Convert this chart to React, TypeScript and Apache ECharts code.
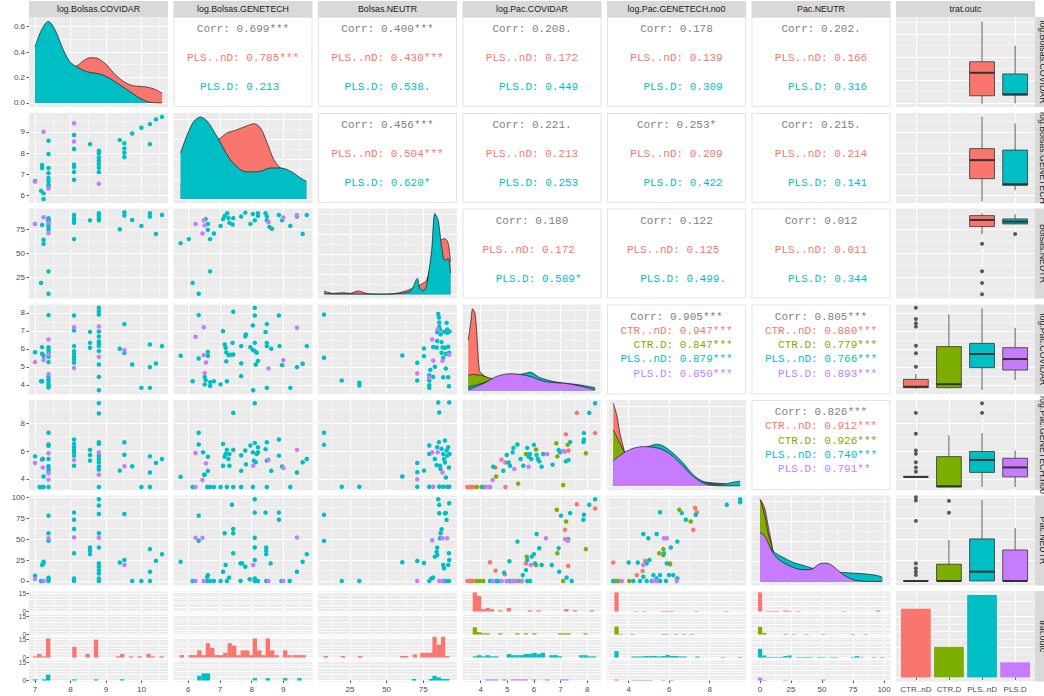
import React, { useEffect, useRef } from "react";
import * as echarts from "echarts";

// ---------------- data ----------------
const GROUPS = ["CTR..nD", "CTR.D", "PLS..nD", "PLS.D"];
const VARS = ["log.Bolsas.COVIDAR", "log.Bolsas.GENETECH", "Bolsas.NEUTR", "log.Pac.COVIDAR", "log.Pac.GENETECH.no0", "Pac.NEUTR", "trat.outc"];
const COUNTS = [45, 20, 54, 10];

// densities [x, density] (diagonal)
const D1_PLSnD = [[7.0,0.30],[7.14,0.38],[7.28,0.43],[7.37,0.44],[7.47,0.42],[7.61,0.37],[7.8,0.31],[7.98,0.28],[8.17,0.29],[8.36,0.33],[8.55,0.355],[8.74,0.352],[8.83,0.34],[9.02,0.30],[9.2,0.24],[9.39,0.19],[9.58,0.155],[9.77,0.135],[9.96,0.13],[10.15,0.125],[10.38,0.107],[10.585,0.076]];
const D1_PLSD = [[7.0,0.44],[7.14,0.547],[7.28,0.62],[7.37,0.64],[7.47,0.62],[7.61,0.547],[7.8,0.416],[7.98,0.324],[8.17,0.285],[8.45,0.246],[8.83,0.227],[9.11,0.193],[9.39,0.141],[9.675,0.089],[9.96,0.037],[10.24,0.005],[10.585,0.0]];
const D2_PLSnD = [[5.757,14],[5.97,25],[6.18,35],[6.39,45],[6.6,52],[6.81,57],[7.02,61],[7.23,66],[7.545,69.3],[7.86,73.3],[8.07,75.3],[8.28,71],[8.49,56],[8.7,39.3],[8.91,31],[9.23,25],[9.54,18],[9.73,15]];
const D2_PLSD = [[5.757,46],[5.97,64.3],[6.18,77.7],[6.39,82],[6.6,77.7],[6.81,67.7],[7.02,56],[7.33,39.3],[7.65,29.3],[7.86,27],[8.28,27.7],[8.6,31],[8.91,31],[9.23,27.7],[9.54,21],[9.73,17.7]];
const D3_PLSnD = [[7.3,3.3],[13.6,1],[20.4,1.7],[25,1],[30.6,3.3],[36.3,1],[43,0.3],[49.9,0.3],[59,1.7],[65.9,5],[70.9,8],[75.4,11.7],[77.3,14],[80.7,35],[82.9,60],[85.2,52],[87.5,55],[89.8,55.7],[92,51],[93.6,32.7]];
const D3_PLSD = [[7.3,1],[13.6,0.5],[20.4,0.5],[30.6,0.5],[36.3,0.3],[49.9,0.3],[59,1],[65.9,3],[68.1,7.7],[70.9,16],[72.7,6],[75.4,4],[77.3,9.3],[80.7,44],[82.9,81],[85.2,74],[87.5,47.7],[89.8,34],[92,36],[93.6,21]];
const D4_CTRnD = [[3.53,50],[3.62,66.7],[3.7,81.7],[3.79,76.7],[3.87,50],[3.95,20],[4.04,16.7],[4.29,12],[4.6,10],[5.1,9],[5.85,7],[6.35,5],[7.11,5],[7.61,3],[8.3,1]];
const D4_CTRD = [[3.53,15],[3.7,16],[3.87,15.5],[4.04,15],[4.29,12.7],[4.6,11],[5.1,10],[5.85,8],[6.35,7],[7.11,6],[7.61,4],[8.3,2]];
const D4_PLSnD = [[3.53,3.3],[4.04,7],[4.6,12],[5.1,15],[5.48,16],[5.73,17.3],[5.85,18.3],[6.23,12.7],[6.86,8.3],[7.73,5.5],[8.3,2.7]];
const D4_PLSD = [[3.53,0.7],[3.95,5],[4.29,9.5],[4.6,14],[5.1,16.7],[5.48,16],[5.85,14],[6.35,9.3],[6.86,7.5],[7.11,7.3],[7.61,5],[8.3,0.7]];
const D5_CTRnD = [[3.24,82.7],[3.41,71],[3.57,52.7],[3.77,36],[3.9,28],[4.23,20],[4.72,14],[5.38,10],[6.2,7],[7.19,5],[8.18,3],[9.5,1]];
const D5_CTRD = [[3.24,56],[3.49,46],[3.73,36],[3.9,30],[4.23,25],[4.72,20],[5.38,15],[6.2,12],[7.19,6],[8.18,2],[9.5,0.5]];
const D5_PLSnD = [[3.24,20],[3.73,28],[4.23,34],[4.72,38],[5.05,40],[5.38,41.7],[5.71,40],[6.2,32.7],[6.7,22.7],[7.19,11],[7.69,4.3],[8.18,1.7],[8.67,1.7],[9.17,3.7],[9.5,4.7]];
const D5_PLSD = [[3.24,25.3],[3.73,32.7],[4.23,37.7],[4.72,39.3],[5.22,38.7],[5.71,36],[6.2,29.3],[6.7,19.3],[7.19,9.3],[7.69,2.7],[8.18,0.3],[8.67,0],[9.5,0]];
const D6_CTRnD = [[0,82],[1.3,80],[4,72],[6.6,55],[9.4,38],[10.7,30],[16,22],[24,16],[37.6,10],[53.7,7],[75,5],[98.5,3]];
const D6_CTRD = [[0,82.3],[1.3,78],[4,65],[6.6,48],[9.4,35],[10.7,29],[16,22],[24,16],[37.6,11],[53.7,8],[75,6],[98.5,2]];
const D6_PLSnD = [[0,45],[4,40],[10.7,30],[18.7,24],[26.8,19],[37.6,15],[45,12],[53.7,10],[67.1,9],[75.2,8.3],[86,7.3],[94,6],[98.5,4.3]];
const D6_PLSD = [[0,49],[4,45],[6.6,38.3],[10.7,28],[16,21],[24.1,15.5],[32.2,12],[40.3,11.7],[48.3,17.7],[53.7,18.3],[59.1,15],[67.1,6.7],[75.2,1.7],[86,0],[98.5,0]];

// scatter points [x, y, group]
const S21 = [[7.0,6.69,2],[7.17,6.23,2],[7.24,6.11,2],[7.24,5.85,2],[7.2,7.44,2],[7.2,7.3,2],[7.38,8.58,2],[7.38,7.96,2],[7.38,7.3,2],[7.38,7.06,2],[7.38,6.83,2],[7.38,6.68,2],[7.38,6.52,2],[7.38,6.45,2],[8.1,8.85,2],[8.1,8.19,2],[8.1,7.46,2],[8.1,7.35,2],[8.1,7.11,2],[8.1,6.75,2],[8.55,8.42,2],[8.8,8.11,2],[8.8,7.99,2],[8.8,7.8,2],[8.8,7.64,2],[8.8,7.49,2],[8.8,7.31,2],[8.8,7.11,2],[9.39,8.61,2],[9.52,8.46,2],[9.52,8.22,2],[9.52,8.02,2],[9.52,7.82,2],[9.74,8.92,2],[10.0,9.19,2],[10.24,9.36,2],[10.24,8.42,2],[10.41,9.58,2],[10.58,9.7,2],
  [7.0,6.66,3],[7.24,9.0,3],[7.38,6.34,3],[8.1,9.4,3],[8.1,8.54,3],[8.8,6.56,3]];
const S31 = [[7.0,80.5,2],[7.2,79.4,2],[7.24,64,2],[7.24,59.8,2],[7.17,19.2,2],[7.38,86.4,2],[7.38,85,2],[7.38,83,2],[7.38,80,2],[7.38,77,2],[7.38,74.3,2],[7.38,31.2,2],[7.38,7.9,2],[8.1,89.8,2],[8.1,86.5,2],[8.1,84.2,2],[8.1,81.6,2],[8.1,64.7,2],[8.55,84.2,2],[8.8,91.5,2],[8.8,89.2,2],[8.8,86.5,2],[8.8,84.2,2],[9.39,75,2],[9.52,92.5,2],[9.52,89.2,2],[9.74,84.6,2],[10.0,78.4,2],[10.24,91.5,2],[10.24,88.2,2],[10.41,70.1,2],[10.58,89.8,2],
  [7.0,80.5,3],[7.24,87.4,3],[7.38,81.6,3],[7.38,70.9,3]];
const S32 = [[5.76,60.5,2],[6.02,64.7,2],[6.14,19.2,2],[6.33,7.9,2],[6.55,85.5,2],[6.62,80.5,2],[6.62,74.3,2],[6.69,64.7,2],[6.69,31.2,2],[6.81,70.6,2],[7.02,78.4,2],[7.1,85.5,2],[7.15,88.8,2],[7.23,91.5,2],[7.27,86.5,2],[7.3,81.6,2],[7.4,79.9,2],[7.42,86.5,2],[7.67,88.2,2],[7.8,92.2,2],[7.96,80.5,2],[8.04,90.8,2],[8.1,84.2,2],[8.2,91.5,2],[8.2,88.8,2],[8.44,91.5,2],[8.48,88.2,2],[8.48,84.2,2],[8.56,77.4,2],[8.64,75.4,2],[8.86,89.8,2],[8.96,84.2,2],[9.22,78.4,2],[9.43,88.2,2],[9.61,70.1,2],[9.74,89.8,2],
  [6.23,80.5,3],[6.45,70.5,3],[6.49,84.2,3],[6.52,79,3],[8.53,82.5,3],[9.0,87.2,3],[9.43,89.8,3]];
const S41 = [[7.0,5.81,2],[7.17,4.2,2],[7.2,4.2,2],[7.2,6.09,2],[7.2,5.72,2],[7.24,5.6,2],[7.38,7.87,2],[7.38,6.09,2],[7.38,5.96,2],[7.38,5.81,2],[7.38,5.54,2],[7.38,5.26,2],[7.38,4.44,2],[7.38,4.28,2],[7.38,4.13,2],[7.38,3.98,2],[7.38,3.85,2],[8.1,7.85,2],[8.1,7.02,2],[8.1,6.15,2],[8.1,5.87,2],[8.1,5.72,2],[8.1,5.55,2],[8.1,5.41,2],[8.1,5.22,2],[8.55,6.94,2],[8.55,6.33,2],[8.55,6.06,2],[8.8,8.28,2],[8.8,8.09,2],[8.8,7.9,2],[8.8,6.96,2],[8.8,6.68,2],[8.8,6.41,2],[8.8,6.28,2],[8.8,6.15,2],[8.8,5.87,2],[8.8,5.13,2],[8.8,4.44,2],[8.8,3.7,2],[9.39,6.0,2],[9.52,7.37,2],[9.52,5.76,2],[9.74,5.13,2],[10.0,3.83,2],[10.24,6.24,2],[10.24,4.98,2],[10.24,3.83,2],[10.41,5.18,2],[10.58,6.15,2],
  [7.0,5.26,3],[7.24,5.38,3],[7.38,6.52,3],[7.38,5.68,3],[7.38,4.59,3],[8.1,7.2,3],[8.1,4.93,3],[8.8,7.24,3],[8.8,5.54,3],[9.52,5.92,3]];
const S42 = [[5.76,5.61,2],[6.14,4.2,2],[6.33,7.87,2],[6.33,5.46,2],[6.52,4.44,2],[6.55,4.26,2],[6.52,4.02,2],[6.62,5.83,2],[6.62,5.61,2],[6.69,4.15,2],[6.69,3.93,2],[6.81,4.2,2],[7.02,4.02,2],[7.1,6.98,2],[7.15,6.24,2],[7.18,6.06,2],[7.2,5.8,2],[7.2,5.3,2],[7.22,4.2,2],[7.27,5.65,2],[7.35,5.67,2],[7.4,6.33,2],[7.42,8.06,2],[7.42,5.68,2],[7.67,6.15,2],[7.67,5.19,2],[7.67,4.48,2],[7.8,6.7,2],[7.82,6.8,2],[7.96,6.09,2],[8.04,7.3,2],[8.04,5.94,2],[8.05,3.7,2],[8.1,8.28,2],[8.1,7.85,2],[8.1,6.33,2],[8.1,5.87,2],[8.13,5.13,2],[8.16,5.78,2],[8.2,5.33,2],[8.44,6.93,2],[8.48,7.37,2],[8.48,6.33,2],[8.48,6.15,2],[8.48,3.83,2],[8.62,6.0,2],[8.86,7.85,2],[8.88,6.15,2],[8.96,5.09,2],[9.22,3.83,2],[9.43,4.98,2],[9.61,5.17,2],[9.74,6.15,2],
  [6.23,6.67,3],[6.49,7.2,3],[6.49,5.65,3],[6.52,4.65,3],[6.56,5.24,3],[8.53,4.91,3],[9.0,5.37,3],[9.43,7.17,3]];
const S43 = [[7.3,7.9,2],[7.3,5.5,2],[19.4,4.24,2],[31.4,4.11,2],[31.4,3.96,2],[60.7,5.63,2],[70.9,5.22,2],[70.9,4.24,2],[75.5,6.02,2],[75.5,5.59,2],[79.1,4.53,2],[79.1,4.24,2],[79.1,3.98,2],[79.1,3.83,2],[81.8,6.1,2],[82.9,5.0,2],[84.1,6.07,2],[84.5,6.93,2],[84.5,6.43,2],[85.2,7.93,2],[85.7,7.74,2],[85.9,7.46,2],[85.9,7.22,2],[86.4,7.07,2],[86.8,6.8,2],[87.5,6.37,2],[88.1,6.07,2],[87.5,5.78,2],[88.6,5.5,2],[89.1,6.94,2],[89.8,6.06,2],[90.4,5.72,2],[90.4,4.9,2],[90.9,7.44,2],[91.3,7.07,2],[91.3,6.89,2],[92.0,6.11,2],[92.7,5.78,2],[92.9,6.96,2],[92.0,4.42,2],[92.5,3.92,2],[88.6,4.42,2],[81.8,4.44,2],[79.8,4.83,2],
  [70.9,4.63,3],[79.1,4.4,3],[81.1,6.52,3],[81.8,5.35,3],[84.8,7.07,3],[88.1,5.33,3],[92.5,5.67,3]];
const S51 = [[7.0,5.63,2],[7.13,3.42,2],[7.2,3.42,2],[7.2,5.4,2],[7.22,5.45,2],[7.24,4.17,2],[7.24,3.42,2],[7.38,7.34,2],[7.38,6.49,2],[7.38,6.4,2],[7.38,5.44,2],[7.38,4.92,2],[7.38,4.7,2],[7.38,4.5,2],[7.38,3.42,2],[8.1,6.85,2],[8.1,6.53,2],[8.1,6.29,2],[8.1,6.1,2],[8.1,5.92,2],[8.1,5.68,2],[8.1,4.95,2],[8.55,6.1,2],[8.55,5.73,2],[8.55,5.32,2],[8.8,9.46,2],[8.8,8.73,2],[8.8,6.65,2],[8.8,6.53,2],[8.8,5.68,2],[8.8,5.44,2],[8.8,5.2,2],[8.8,4.9,2],[8.8,4.68,2],[8.8,3.42,2],[9.39,4.6,2],[9.52,6.65,2],[9.52,5.75,2],[9.74,4.92,2],[10.0,3.42,2],[10.24,5.63,2],[10.24,4.46,2],[10.24,3.42,2],[10.41,5.15,2],[10.58,5.44,2],
  [7.0,5.15,3],[7.22,4.83,3],[7.38,5.85,3],[7.38,4.4,3],[7.38,3.95,3],[8.1,5.36,3],[8.8,5.92,3],[8.8,4.3,3],[9.52,4.92,3]];
const S52 = [[5.76,4.15,2],[6.14,3.42,2],[6.33,7.34,2],[6.33,6.49,2],[6.47,5.92,2],[6.5,4.3,2],[6.52,4.3,2],[6.6,3.42,2],[6.62,5.6,2],[6.62,4.58,2],[6.69,3.42,2],[6.81,3.42,2],[7.02,3.42,2],[7.1,6.53,2],[7.1,4.95,2],[7.15,5.6,2],[7.18,5.8,2],[7.22,6.1,2],[7.22,3.42,2],[7.27,5.44,2],[7.3,5.8,2],[7.3,4.95,2],[7.42,8.77,2],[7.42,6.1,2],[7.42,3.42,2],[7.67,5.7,2],[7.67,4.58,2],[7.67,3.42,2],[7.8,6.05,2],[7.82,5.05,2],[7.96,6.41,2],[8.04,3.42,2],[8.04,5.92,2],[8.07,5.32,2],[8.1,9.46,2],[8.1,6.6,2],[8.13,5.2,2],[8.16,5.8,2],[8.2,6.29,2],[8.2,5.92,2],[8.44,6.15,2],[8.48,6.65,2],[8.48,5.32,2],[8.48,3.42,2],[8.62,4.58,2],[8.86,6.85,2],[8.86,5.68,2],[8.96,4.9,2],[9.22,3.42,2],[9.43,4.46,2],[9.61,5.2,2],[9.74,5.44,2],
  [6.23,3.42,3],[6.23,5.87,3],[6.45,3.92,3],[6.56,5.12,3],[8.05,4.95,3],[8.53,5.38,3],[9.0,4.79,3],[9.43,6.1,3]];
const S53 = [[7.3,7.34,2],[7.3,6.46,2],[19.4,3.44,2],[31.4,3.44,2],[60.7,4.17,2],[70.9,5.15,2],[70.9,4.49,2],[70.9,3.44,2],[75.5,4.6,2],[79.1,6.41,2],[79.1,5.8,2],[79.1,3.44,2],[82.9,5.44,2],[84.1,5.0,2],[84.5,6.29,2],[85.2,9.52,2],[85.9,8.8,2],[85.7,6.66,2],[85.9,3.44,2],[86.4,4.95,2],[86.8,4.71,2],[87.5,6.17,2],[88.6,5.8,2],[88.6,3.44,2],[89.1,5.44,2],[89.8,6.78,2],[89.8,5.19,2],[90.4,4.1,2],[90.9,6.05,2],[91.3,5.68,2],[91.3,3.44,2],[92.0,6.29,2],[92.5,4.83,2],[92.7,9.52,2],[92.7,3.44,2],[92.9,5.8,2],
  [70.9,3.97,3],[81.1,5.92,3],[81.8,3.44,3],[84.8,5.92,3],[88.1,4.46,3]];
const S61 = [[7.0,6.3,2],[7.17,0,2],[7.2,0,2],[7.2,19.1,2],[7.24,23,2],[7.24,21,2],[7.38,78,2],[7.38,57,2],[7.38,48,2],[7.38,4,2],[7.38,2,2],[7.38,0,2],[8.1,81.6,2],[8.1,73,2],[8.1,62,2],[8.1,33,2],[8.1,3,2],[8.1,0,2],[8.55,40,2],[8.55,36,2],[8.55,32,2],[8.8,97.6,2],[8.8,90,2],[8.8,80,2],[8.8,57,2],[8.8,40,2],[8.8,21,2],[8.8,17,2],[8.8,13,2],[8.8,9,2],[8.8,3,2],[8.8,0,2],[9.39,22,2],[9.52,80,2],[9.52,25,2],[9.74,0,2],[10.0,0,2],[10.24,38,2],[10.24,11,2],[10.24,0,2],[10.41,24,2],[10.58,32,2],
  [7.0,2.3,3],[7.24,0,3],[7.38,51,3],[8.1,52,3],[8.8,51.6,3],[9.52,19,3]];
const S62 = [[5.76,23,2],[6.14,0,2],[6.33,78,2],[6.33,48,2],[6.6,0,2],[6.6,5,2],[6.62,7,2],[6.69,0,2],[6.81,0,2],[7.02,0,2],[7.1,11,2],[7.15,57,2],[7.18,19,2],[7.22,0,2],[7.29,4,2],[7.38,91,2],[7.42,57,2],[7.42,62,2],[7.42,33,2],[7.65,21,2],[7.7,21,2],[7.8,17,2],[7.65,0,2],[7.94,2,2],[8.1,97.6,2],[8.1,81.6,2],[8.1,51.6,2],[8.1,40,2],[8.1,25,2],[8.1,3,2],[8.1,0,2],[8.2,0,2],[8.44,81.6,2],[8.46,40,2],[8.46,36,2],[8.46,32,2],[8.46,0,2],[8.6,21,2],[8.86,81.6,2],[8.86,73,2],[8.94,0,2],[9.2,0,2],[9.43,11,2],[9.61,23,2],[9.74,32,2],
  [6.23,0,3],[6.23,51.6,3],[6.45,51.6,3],[6.49,0,3],[8.05,19,3],[8.53,0,3],[9.0,0,3],[9.43,52,3]];
const S63 = [[7.3,78.9,2],[7.3,47.8,2],[19.4,0,2],[31.4,0,2],[60.7,22.3,2],[70.9,23.9,2],[75.5,21.5,2],[79.1,0,2],[80.5,3,2],[81.8,4,2],[82.9,29,2],[84.1,35,2],[84.5,39.8,2],[84.5,31,2],[85.2,97.6,2],[85.9,80.9,2],[85.9,90.8,2],[86.4,51,2],[86.8,57,2],[87.5,61.8,2],[88.6,19,2],[89.1,15.2,2],[89.8,80.9,2],[90.4,81,2],[90.9,72.9,2],[92.0,19,2],[92.5,33,2],[92.7,92.8,2],[92.7,25,2],[89.1,0,2],[90.9,0,2],[92.5,0,2],
  [70.9,0,3],[81.1,48.6,3],[88.1,51,3],[91.3,51,3],[85.9,0,3],[88.1,0,3]];
const S54 = [[3.5,3.42,0],[3.6,3.42,0],[3.65,3.42,0],[3.72,3.42,0],[4.93,3.42,0],[4.55,4.83,0],[4.93,5.19,0],[7.61,8.77,0],[8.3,7.31,0],[7.2,7.22,0],[7.3,6.05,0],
  [3.85,3.42,1],[4.03,3.42,1],[4.58,4.17,1],[5.41,3.66,1],[5.7,5.8,1],[6.08,6.12,1],[6.84,6.58,1],[6.88,5.63,1],[7.1,3.56,1],[7.27,6.46,1],[7.95,5.85,1],
  [4.1,3.42,2],[4.35,3.42,2],[4.47,4.88,2],[4.85,4.59,2],[4.98,5.73,2],[5.05,5.19,2],[5.1,4.95,2],[5.2,5.92,2],[5.38,6.49,2],[5.5,5.44,2],[5.6,4.95,2],[5.75,6.24,2],[5.8,5.61,2],[5.9,5.44,2],[6.0,6.46,2],[6.1,5.73,2],[6.15,5.44,2],[6.2,5.27,2],[6.29,4.88,2],[6.35,5.8,2],[6.7,5.03,2],[6.93,6.1,2],[6.98,5.92,2],[7.3,5.36,2],[7.36,6.66,2],[7.88,7.31,2],[7.88,6.85,2],[7.86,6.66,2],[8.08,8.77,2],[8.3,9.46,2],[7.2,5.27,2],[5.23,6.24,2],[5.85,5.8,2],
  [4.2,3.42,3],[4.35,3.42,3],[4.45,3.92,3],[4.78,5.39,3],[5.26,4.71,3],[5.8,4.88,3],[6.5,5.8,3],[7.17,5.97,3],[7.1,6.02,3]];
const S64 = [[3.5,0,0],[3.6,0,0],[3.65,0,0],[3.72,0,0],[4.35,22.3,0],[4.56,12.3,0],[4.91,8,0],[5.7,21,0],[7.29,18,0],[7.17,61,0],[7.61,91.6,0],[8.3,86.4,0],
  [3.85,0,1],[3.97,0,1],[4.1,0,1],[4.58,0,1],[5.41,0,1],[5.73,29,1],[6.08,19,1],[6.86,85,1],[6.88,33,1],[7.1,0,1],[7.21,71,1],[7.29,50,1],[7.95,38,1],
  [4.35,0,2],[4.47,0,2],[4.6,0,2],[4.88,10,2],[5.08,23.5,2],[5.23,0,2],[5.38,47,2],[5.54,0,2],[5.7,13,2],[5.75,25,2],[5.85,0,2],[5.92,29,2],[6.0,32,2],[6.04,21,2],[6.1,56,2],[6.2,39,2],[6.29,19,2],[6.67,19,2],[6.93,39,2],[6.95,11,2],[7.02,78,2],[7.23,4,2],[7.36,81,2],[7.42,0,2],[7.86,73,2],[7.88,79,2],[8.08,91,2],[8.3,97.6,2],[5.1,0,2],[4.98,0,2],[4.66,0,2],[5.58,7,2],[5.75,0,2],
  [4.47,0,3],[4.79,0,3],[4.98,0,3],[5.17,0,3],[5.33,0,3],[5.54,0,3],[5.88,19,3],[6.45,51,3],[7.17,50,3],[7.27,48,3]];
const S65 = [[3.24,22,0],[3.24,0,0],[3.33,0,0],[4.4,7,0],[4.69,12,0],[4.81,24,0],[6.04,21,0],[7.28,87,0],[7.36,82,0],[7.19,61,0],
  [3.41,0,1],[3.49,0,1],[4.03,0,1],[5.51,33,1],[5.71,38,1],[5.71,31,1],[6.04,20,1],[6.5,85,1],[7.06,71,1],
  [3.24,0,2],[4.0,22,2],[4.45,22,2],[4.72,56,2],[4.89,21,2],[4.97,51,2],[5.02,25,2],[5.38,56,2],[5.55,82,2],[5.55,7,2],[5.74,33,2],[5.88,21,2],[5.99,7,2],[6.08,40,2],[6.2,7,2],[6.4,3,2],[6.4,47,2],[6.62,81,2],[6.82,73,2],[7.31,79,2],[8.84,91,2],[9.5,97.6,2],[9.5,94,2],[5.38,3,2],[5.22,7,2],[4.72,5,2],[4.23,0,2],[4.56,0,2],[4.89,0,2],[5.14,0,2],[5.55,0,2],[5.84,0,2],
  [3.66,0,3],[4.72,19,3],[5.22,0,3],[5.38,0,3],[5.74,51,3],[5.88,51,3],[6.37,0,3]];

// boxplots: [category(1..4), lower whisker, Q1, median, Q3, upper whisker]
const BOX1 = [[3,6.96,7.32,8.32,8.80,10.55],[4,6.99,7.35,7.38,8.27,9.50]];
const BOX2 = [[3,5.74,6.80,7.67,8.21,9.71],[4,6.25,6.49,6.54,8.14,9.39]];
const BOX3 = [[3,69.8,77.7,84.6,89.1,91.5],[4,80.0,80.5,82.9,85.7,90.5]];
const BOX4 = [[1,3.77,3.84,3.89,4.30,4.60],[2,3.80,3.84,4.03,6.12,7.92],[3,3.71,4.95,5.71,6.30,8.25],[4,4.27,4.82,5.43,6.06,7.17]];
const BOX5 = [[1,4.15,4.15,4.15,4.15,4.15],[2,3.42,3.42,3.47,5.61,7.14],[3,3.42,4.47,5.37,5.98,7.31],[4,3.42,4.15,4.83,5.49,6.05]];
const BOX6 = [[1,0,0,0,0,0],[2,0,0,0,20,49],[3,0,0,11.1,50.2,96.8],[4,0,0,0,37,63]];
const OUT1: number[][] = [];
const OUT2: number[][] = [];
const OUT3 = [[3,59.8],[3,31.2],[3,19.2],[3,7.4],[4,70.1]];
const OUT4 = [[1,8.28],[1,7.65],[1,7.42],[1,7.23],[1,6.17],[1,5.75],[1,5.0]];
const OUT5 = [[1,8.77],[1,7.27],[1,6.05],[1,5.81],[1,5.2],[1,4.83],[1,4.52],[3,9.46],[3,8.77]];
const OUT6 = [[1,100],[1,96],[1,71.7],[1,21],[1,15.2],[1,11.1],[1,7.2],[2,95.6],[2,81.3]];

// histograms by group: [bin centre, count]
const H1 = [[], [], [[7.0,1],[7.12,3],[7.25,1],[7.37,16],[8.11,9],[8.48,3],[8.72,15],[9.34,1],[9.46,3],[9.71,1],[9.95,1],[10.2,3],[10.32,1],[10.57,1]], [[7.0,1],[7.25,1],[7.37,5],[8.11,1],[8.72,1],[9.46,1]]];
const H2 = [[], [], [[5.8,1],[6.08,1],[6.22,1],[6.35,3],[6.49,1],[6.62,6],[6.76,4],[6.9,1],[7.03,1],[7.17,2],[7.31,6],[7.45,5],[7.58,1],[7.72,3],[7.86,3],[7.99,1],[8.1,8],[8.24,3],[8.37,1],[8.51,8],[8.65,3],[8.79,1],[9.06,3],[9.2,1],[9.37,1],[9.51,1],[9.64,1]], [[6.35,2],[6.49,3],[6.62,3],[8.1,1],[8.51,1],[9.06,1],[9.51,1]]];
const H3 = [[], [], [[8.5,1],[20.2,1],[31.9,1],[60.5,1],[63.4,1],[69.3,2],[74.4,3],[77.3,3],[80.2,3],[82.7,13],[85.6,8],[88.5,13],[91.4,1]], [[68.6,1],[80.2,1],[82.7,3],[85.6,2],[88.5,1],[91.4,1]]];
const H4 = [[[3.78,16],[3.94,13],[4.1,2],[4.26,3],[4.42,2],[4.74,1],[5.06,3],[5.85,1],[6.17,1],[7.22,2],[7.54,1],[8.18,1]],
  [[3.78,6],[3.94,2],[4.1,1],[4.26,1],[4.74,1],[5.38,1],[5.7,1],[6.02,1],[6.98,1],[7.14,1],[7.3,1],[7.94,1]],
  [[3.78,1],[3.94,2],[4.1,1],[4.26,2],[4.42,1],[4.58,1],[5.06,3],[5.22,2],[5.38,2],[5.54,2],[5.7,3],[5.86,3],[6.02,4],[6.18,3],[6.34,4],[6.66,2],[6.82,2],[6.98,1],[7.78,2],[7.94,2],[8.1,1],[8.26,1]],
  [[4.26,1],[4.42,1],[4.58,1],[4.9,1],[5.22,1],[5.38,1],[5.54,1],[5.7,1],[6.02,1],[6.5,1],[7.06,1],[7.22,1]]];
const H5 = [[[3.4,36],[4.37,1],[4.78,1],[5.7,1],[5.9,1],[6.1,1],[7.35,1],[8.8,1]],
  [[3.4,15],[3.61,1],[4.2,1],[5.7,1],[5.9,1],[6.32,1],[6.74,1],[7.1,1]],
  [[3.4,12],[4.24,2],[4.45,2],[4.66,2],[4.87,3],[5.08,3],[5.29,3],[5.5,2],[5.71,3],[5.92,5],[6.13,3],[6.34,3],[6.55,2],[6.76,2],[7.39,2],[8.65,1],[9.49,1]],
  [[3.4,2],[4.24,1],[4.45,1],[4.66,1],[4.87,1],[5.08,1],[5.71,1],[6.13,1]]];
const H6 = [[[0,37],[6.8,1],[10.2,1],[13.6,1],[20.4,2],[23.8,1],[30.6,1],[68,1],[95.2,2]],
  [[0,15],[3.4,3],[20.4,1],[27.2,1],[37.4,1],[51,1],[74.8,1],[85,1]],
  [[0,17],[3.4,4],[6.8,1],[10.2,1],[13.6,1],[17,1],[20.4,3],[23.8,4],[30.6,1],[34,1],[37.4,1],[40.8,1],[47.6,1],[51,1],[57.8,1],[61.2,1],[74.8,1],[78.2,3],[81.6,1],[91.8,1],[98.6,1]],
  [[0,6],[3.4,1],[20.4,1],[51,2]]];
const HIST_BINWIDTH = [0.123, 0.138, 2.93, 0.16, 0.21, 3.4];
const HIST_MAX = [16, 8, 12, 16, 36, 37];

// correlations [row, col, overall, per-group]
const CORR = [
  [0, 1, "0.699***", ["0.785***", "0.213"]],
  [0, 2, "0.400***", ["0.430***", "0.538."]],
  [0, 3, "0.208.", ["0.172", "0.449"]],
  [0, 4, "0.178", ["0.139", "0.309"]],
  [0, 5, "0.202.", ["0.166", "0.316"]],
  [1, 2, "0.456***", ["0.504***", "0.620*"]],
  [1, 3, "0.221.", ["0.213", "0.253"]],
  [1, 4, "0.253*", ["0.209", "0.422"]],
  [1, 5, "0.215.", ["0.214", "0.141"]],
  [2, 3, "0.180", ["0.172", "0.589*"]],
  [2, 4, "0.122", ["0.125", "0.499."]],
  [2, 5, "0.012", ["0.011", "0.344"]],
  [3, 4, "0.905***", ["0.947***", "0.847***", "0.879***", "0.850***"]],
  [3, 5, "0.805***", ["0.880***", "0.779***", "0.766***", "0.893***"]],
  [4, 5, "0.826***", ["0.912***", "0.926***", "0.740***", "0.791**"]],
];

// ---------------- layout / style ----------------
const PAL4 = ["#F8766D", "#7CAE00", "#00BFC4", "#C77CFF"];
const RED = PAL4[0], GREEN = PAL4[1], TEAL = PAL4[2], PURPLE = PAL4[3];
const BG = "#EBEBEB";
const COL_LEFT = [29, 173.5, 318, 462.5, 607, 751.5, 896];
const ROW_TOP = [17, 113, 208.5, 304.5, 400, 495.5, 591];
const PW = 139, PH = 90;
const HIST_TOP = [591.5, 614.5, 637.5, 660.5];
const HIST_H = 21;
const XR = [[6.83, 10.75], [5.536, 9.92], [3.2, 98], [3.316, 8.54], [2.93, 9.79], [-6.9, 105.2], [0.4, 4.6]];
const XI = [1, 1, 25, 1, 2, 25, 1];
const YR = [[6.83, 10.75], [5.66, 9.88], [3, 96.5], [3.46, 8.46], [3.2, 9.7], [-5.4, 102]];
const YI = [1, 1, 25, 1, 2, 25];
const HIST_STEP = [5, 2, 4, 5, 10, 10];
const SANS = "Liberation Sans, Arial, Helvetica, sans-serif";
const MONO = "Liberation Mono, DejaVu Sans Mono, monospace";
const NB = "\u00A0";

const DIAG = [
  [[D1_PLSnD, RED], [D1_PLSD, TEAL]],
  [[D2_PLSnD, RED], [D2_PLSD, TEAL]],
  [[D3_PLSnD, RED], [D3_PLSD, TEAL]],
  [[D4_CTRnD, RED], [D4_CTRD, GREEN], [D4_PLSnD, TEAL], [D4_PLSD, PURPLE]],
  [[D5_CTRnD, RED], [D5_CTRD, GREEN], [D5_PLSnD, TEAL], [D5_PLSD, PURPLE]],
  [[D6_CTRnD, RED], [D6_CTRD, GREEN], [D6_PLSnD, TEAL], [D6_PLSD, PURPLE]],
];
const SCAT: any = { "1-0": S21, "2-0": S31, "2-1": S32, "3-0": S41, "3-1": S42, "3-2": S43, "4-0": S51, "4-1": S52, "4-2": S53, "4-3": S54, "5-0": S61, "5-1": S62, "5-2": S63, "5-3": S64, "5-4": S65 };
const BOXES = [BOX1, BOX2, BOX3, BOX4, BOX5, BOX6];
const OUTS = [OUT1, OUT2, OUT3, OUT4, OUT5, OUT6];
const HISTS = [H1, H2, H3, H4, H5, H6];

function ticksOf(range: number[], step: number) {
  const out: number[] = [];
  for (let k = Math.ceil(range[0] / step - 1e-9); k * step <= range[1] + 1e-9; k++) out.push(+(k * step).toFixed(6));
  return out;
}

function vAxis(range: number[], step: number, opt: any = {}) {
  const ticks = ticksOf(range, step);
  return {
    type: "value",
    min: range[0],
    max: range[1],
    minInterval: step,
    maxInterval: step,
    axisLine: { show: false },
    axisTick: { show: !!opt.labels, length: 2.5, lineStyle: { color: "#333333", width: 0.8 }, customValues: ticks },
    axisLabel: {
      show: !!opt.labels,
      customValues: ticks,
      formatter: (v: number) => (opt.fmt ? opt.fmt(v) : String(v)),
      color: "#4D4D4D",
      fontSize: opt.size ?? 8,
      fontFamily: SANS,
      margin: opt.margin ?? 4,
      showMinLabel: true,
      showMaxLabel: true,
      hideOverlap: false,
    },
    splitLine: { show: true, lineStyle: { color: "#FFFFFF", width: 1 } },
    minorTick: { show: false, splitNumber: 2 },
    minorSplitLine: { show: opt.minor !== false, lineStyle: { color: "#FFFFFF", width: 0.5 } },
  };
}

function corrLines(corr: string, vals: string[], labels: string[]) {
  const lw = Math.max(...labels.map((l) => l.length));
  const parts = vals.map((v) => {
    const m = /^(-?\d+\.\d+)(.*)$/.exec(v) as RegExpExecArray;
    return [m[1], m[2]];
  });
  const sw = Math.max(...parts.map((p) => p[1].length));
  const out = ["Corr: " + corr];
  labels.forEach((l, i) => out.push(NB.repeat(lw - l.length) + l + ": " + parts[i][0] + parts[i][1] + NB.repeat(sw - parts[i][1].length)));
  return out.map((s) => s.replace(/ /g, NB));
}

function buildOption() {
  const grid: any[] = [], xAxis: any[] = [], yAxis: any[] = [], series: any[] = [], elements: any[] = [];
  const addGrid = (l: number, t: number, w: number, h: number, xa: any, ya: any) => {
    const gi = grid.length;
    grid.push({ left: l, top: t, width: w, height: h, show: true, backgroundColor: BG, borderWidth: 0, containLabel: false });
    xAxis.push({ ...xa, gridIndex: gi });
    yAxis.push({ ...ya, gridIndex: gi });
    return gi;
  };
  const boxColor = (row: number, cat: number) => (row < 3 ? (cat === 3 ? RED : TEAL) : PAL4[cat - 1]);

  for (let r = 0; r < 6; r++) {
    for (let c = 0; c < 7; c++) {
      const L = COL_LEFT[c], T = ROW_TOP[r];
      if (c === 6) {
        const gi = addGrid(L, T, PW, PH, vAxis(XR[6], 1, { minor: false }), vAxis(YR[r], YI[r]));
        const boxes = BOXES[r];
        const cols = boxes.map((b) => boxColor(r, b[0]));
        series.push({
          type: "custom", xAxisIndex: gi, yAxisIndex: gi, silent: true, z: 3, data: boxes,
          renderItem: (params: any, api: any) => {
            const x = api.value(0), lo = api.value(1), q1 = api.value(2), md = api.value(3), q3 = api.value(4), hi = api.value(5);
            const hw = 0.375;
            const a = api.coord([x - hw, q3]), b = api.coord([x + hw, q1]);
            const m1 = api.coord([x - hw, md]), m2 = api.coord([x + hw, md]);
            const t = api.coord([x, hi]), tq = api.coord([x, q3]), bq = api.coord([x, q1]), bl = api.coord([x, lo]);
            const ln = (p: number[], q: number[], w: number) => ({ type: "line", shape: { x1: p[0], y1: p[1], x2: q[0], y2: q[1] }, style: { stroke: "#333333", lineWidth: w } });
            return {
              type: "group",
              children: [
                ln(t, tq, 0.8), ln(bq, bl, 0.8),
                { type: "rect", shape: { x: a[0], y: a[1], width: b[0] - a[0], height: Math.max(b[1] - a[1], 0.01) }, style: { fill: cols[params.dataIndex], stroke: "#333333", lineWidth: 0.8 } },
                ln(m1, m2, 2),
              ],
            };
          },
        });
        if (OUTS[r].length) series.push({ type: "scatter", xAxisIndex: gi, yAxisIndex: gi, silent: true, z: 4, symbolSize: 4, itemStyle: { color: "#333333" }, data: OUTS[r] });
      } else if (r === c) {
        const ya = r === 0 ? vAxis([-0.032, 0.675], 0.2, { labels: true, fmt: (v: number) => v.toFixed(1) }) : vAxis([-4.1, 86], 20);
        const gi = addGrid(L, T, PW, PH, vAxis(XR[c], XI[c]), ya);
        DIAG[r].forEach(([data, color]: any, k: number) => {
          series.push({ type: "line", xAxisIndex: gi, yAxisIndex: gi, data, smooth: 0.3, symbol: "none", showSymbol: false, silent: true, z: 2 + k,
            lineStyle: { color: "#1A1A1A", width: 0.7 }, areaStyle: { color, opacity: 1 } });
        });
      } else if (c < r) {
        const gi = addGrid(L, T, PW, PH, vAxis(XR[c], XI[c]), vAxis(YR[r], YI[r], { labels: c === 0 }));
        const pts = SCAT[r + "-" + c];
        series.push({ type: "scatter", xAxisIndex: gi, yAxisIndex: gi, silent: true, z: 3, symbolSize: 4.5,
          data: pts.map((p: number[]) => ({ value: [p[0], p[1]], itemStyle: { color: PAL4[p[2]], opacity: 1 } })) });
      }
    }
  }

  // bottom row: faceted histograms
  for (let c = 0; c < 6; c++) {
    const M = HIST_MAX[c];
    for (let s = 0; s < 4; s++) {
      const gi = addGrid(COL_LEFT[c], HIST_TOP[s], PW, HIST_H,
        vAxis(XR[c], XI[c], { labels: s === 3 }),
        vAxis([-0.05 * M, 1.05 * M], HIST_STEP[c], { labels: c === 0, size: 6.5, margin: 3 }));
      const bins = HISTS[c][s];
      if (!bins.length) continue;
      const color = c < 3 ? (s === 2 ? RED : TEAL) : PAL4[s];
      const bw = HIST_BINWIDTH[c];
      series.push({
        type: "custom", xAxisIndex: gi, yAxisIndex: gi, silent: true, z: 3, data: bins,
        renderItem: (p: any, api: any) => {
          const ctr = api.value(0), n = api.value(1);
          const a = api.coord([ctr - bw / 2, n]), b = api.coord([ctr + bw / 2, 0]);
          return { type: "rect", shape: { x: a[0], y: a[1], width: b[0] - a[0], height: b[1] - a[1] }, style: { fill: color } };
        },
      });
    }
  }

  // bottom-right bar chart of counts
  {
    const gi = addGrid(COL_LEFT[6], ROW_TOP[6], PW, 90.5,
      vAxis(XR[6], 1, { labels: true, minor: false, fmt: (v: number) => GROUPS[v - 1] ?? "" }),
      vAxis([-2.7, 56.7], 10));
    series.push({
      type: "custom", xAxisIndex: gi, yAxisIndex: gi, silent: true, z: 3,
      data: COUNTS.map((n, i) => [i + 1, n]),
      renderItem: (p: any, api: any) => {
        const x = api.value(0), n = api.value(1);
        const a = api.coord([x - 0.45, n]), b = api.coord([x + 0.45, 0]);
        return { type: "rect", shape: { x: a[0], y: a[1], width: b[0] - a[0], height: b[1] - a[1] }, style: { fill: PAL4[p.dataIndex] } };
      },
    });
  }

  // correlation text panels
  CORR.forEach(([r, c, corr, vals]: any) => {
    const L = COL_LEFT[c], T = ROW_TOP[r];
    elements.push({ type: "rect", shape: { x: L + 0.5, y: T + 0.5, width: PW - 1, height: PH - 1 }, style: { fill: "#FFFFFF", stroke: "#E3E3E3", lineWidth: 1 }, silent: true });
    const labels = vals.length === 2 ? ["PLS..nD", "PLS.D"] : GROUPS;
    const colors = vals.length === 2 ? ["#7F7F7F", RED, TEAL] : ["#7F7F7F", ...PAL4];
    const offs = vals.length === 2 ? [12, 41, 70] : [12, 26.3, 40.5, 54.8, 69];
    corrLines(corr, vals, labels).forEach((txt, i) => {
      elements.push({ type: "text", x: L + PW / 2, y: T + offs[i], silent: true,
        style: { text: txt, fill: colors[i], fontSize: 11, fontFamily: MONO, textAlign: "center", textVerticalAlign: "middle" } });
    });
  });

  // strips
  for (let c = 0; c < 7; c++) {
    elements.push({ type: "rect", shape: { x: COL_LEFT[c], y: 1, width: PW, height: 16 }, style: { fill: "#D9D9D9" }, silent: true });
    elements.push({ type: "text", x: COL_LEFT[c] + PW / 2, y: 9.2, silent: true,
      style: { text: VARS[c], fill: "#1A1A1A", fontSize: 8.8, fontFamily: SANS, textAlign: "center", textVerticalAlign: "middle" } });
  }
  for (let r = 0; r < 7; r++) {
    const h = r === 6 ? 90.5 : PH;
    elements.push({ type: "rect", shape: { x: 1035, y: ROW_TOP[r], width: 16, height: h }, style: { fill: "#D9D9D9" }, silent: true });
    elements.push({ type: "text", x: 1043, y: ROW_TOP[r] + h / 2, rotation: -Math.PI / 2, silent: true,
      style: { text: VARS[r], fill: "#1A1A1A", fontSize: 8.8, fontFamily: SANS, textAlign: "center", textVerticalAlign: "middle" } });
  }

  return { animation: false, backgroundColor: "#FFFFFF", grid, xAxis, yAxis, series, graphic: { elements } };
}

export default function App() {
  const ref = useRef<HTMLDivElement>(null);
  useEffect(() => {
    const chart = echarts.init(ref.current as HTMLDivElement, null, { renderer: "svg" });
    chart.setOption(buildOption() as any);
    return () => chart.dispose();
  }, []);
  return <div ref={ref} style={{ position: "absolute", left: 0, top: 0, width: 1044, height: 696 }} />;
}
